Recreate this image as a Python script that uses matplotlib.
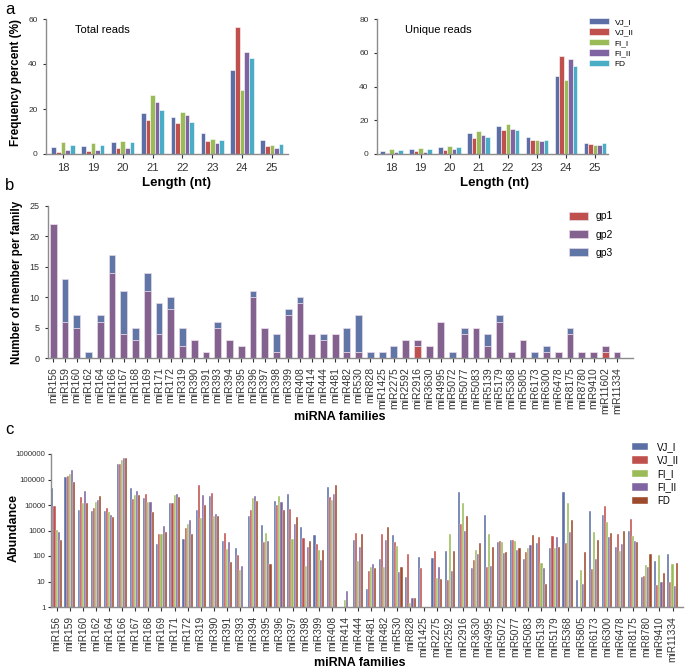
import numpy as np
import matplotlib
matplotlib.use("Agg")
import matplotlib.pyplot as plt
from matplotlib.ticker import FixedLocator, FuncFormatter

plt.rcParams['font.family'] = ['Liberation Sans', 'DejaVu Sans']

# ---------------- data: panel a ----------------
lengths = ['18', '19', '20', '21', '22', '23', '24', '25']
samples = ['VJ_I', 'VJ_II', 'FI_I', 'FI_II', 'FD']

total_VJ_I = [3.3, 3.7, 5.5, 18.4, 16.3, 9.2, 37.3, 6.4]
total_VJ_II = [1.0, 1.5, 2.5, 15.2, 13.8, 5.8, 56.6, 3.6]
total_FI_I = [5.3, 4.9, 5.8, 26.3, 18.6, 6.7, 28.5, 3.9]
total_FI_II = [2.0, 1.6, 2.8, 23.0, 17.2, 4.9, 45.5, 2.5]
total_FD = [3.9, 4.0, 5.3, 19.5, 14.1, 6.2, 42.5, 4.6]

uniq_VJ_I = [1.8, 3.0, 4.4, 12.3, 16.6, 9.9, 46.3, 6.5]
uniq_VJ_II = [0.6, 1.6, 2.6, 9.3, 14.5, 8.3, 58.2, 5.7]
uniq_FI_I = [3.0, 3.8, 5.0, 13.7, 17.8, 8.5, 44.0, 5.5]
uniq_FI_II = [1.0, 1.4, 3.0, 11.3, 15.0, 7.9, 56.2, 5.1]
uniq_FD = [2.4, 3.0, 4.2, 9.9, 14.5, 8.3, 52.3, 6.5]

# ---------------- data: panel b ----------------
fam_b = ['miR156', 'miR159', 'miR160', 'miR162', 'miR164', 'miR166', 'miR167', 'miR168',
         'miR169', 'miR171', 'miR172', 'miR319', 'miR390', 'miR391', 'miR393', 'miR394',
         'miR395', 'miR396', 'miR397', 'miR398', 'miR399', 'miR408', 'miR414', 'miR444',
         'miR481', 'miR482', 'miR530', 'miR828', 'miR1425', 'miR2275', 'miR2592', 'miR2916',
         'miR3630', 'miR4995', 'miR5072', 'miR5077', 'miR5083', 'miR5139', 'miR5179',
         'miR5368', 'miR5805', 'miR6173', 'miR6300', 'miR6478', 'miR8175', 'miR8780',
         'miR9410', 'miR11602', 'miR11334']
gp1 = [0, 0, 0, 0, 0, 0, 0, 0, 0, 0, 0, 0, 0, 0, 0, 0, 0, 0, 0, 0, 0, 0, 0, 0,
       0, 0, 0, 0, 0, 0, 0, 2, 0, 0, 0, 0, 0, 0, 0, 0, 0, 0, 0, 0, 0, 0, 0, 1, 0]
gp2 = [22, 6, 5, 0, 6, 14, 4, 3, 11, 4, 8, 2, 3, 1, 5, 3, 2, 10, 5, 1, 7, 9, 4, 3,
       4, 1, 1, 0, 0, 0, 3, 1, 2, 6, 0, 4, 5, 2, 6, 1, 3, 0, 1, 1, 4, 1, 1, 1, 1]
gp3 = [0, 7, 2, 1, 1, 3, 7, 2, 3, 5, 2, 3, 0, 0, 1, 0, 0, 1, 0, 3, 1, 1, 0, 1,
       0, 4, 6, 1, 1, 2, 0, 0, 0, 0, 1, 1, 0, 2, 1, 0, 0, 1, 1, 0, 1, 0, 0, 0, 0]

# ---------------- data: panel c ----------------
nan = np.nan
fam_c = ['miR156', 'miR159', 'miR160', 'miR162', 'miR164', 'miR166', 'miR167', 'miR168',
         'miR169', 'miR171', 'miR172', 'miR319', 'miR390', 'miR391', 'miR393', 'miR394',
         'miR395', 'miR396', 'miR397', 'miR398', 'miR399', 'miR408', 'miR414', 'miR444',
         'miR481', 'miR482', 'miR530', 'miR828', 'miR1425', 'miR2275', 'miR2592', 'miR2916',
         'miR3630', 'miR4995', 'miR5072', 'miR5077', 'miR5083', 'miR5139', 'miR5179',
         'miR5368', 'miR5805', 'miR6173', 'miR6300', 'miR6478', 'miR8175', 'miR8780',
         'miR9410', 'miR11334']
ab_VJ_I = [47000, 126000, 6300, 5800, 6000, 390000, 47000, 19000, 300, 11500, 450, 6100,
           23000, 400, 215, 3600, 1650, 14800, 26000, 1330, 690, 49000, nan, 435,
           5, 74, 670, 15, 91, 81, 162, 33000, 34, 4000, 355, 410, 79, 323, 200,
           32000, 11, 5800, 4000, 220, 960, 14.6, 66, 117]
ab_VJ_II = [9400, 141000, 21000, 7900, 7900, 420000, 17000, 27000, 720, 11500, 1300, 61000,
            29000, 800, 105, 6600, 365, 10000, 7200, 525, 305, 20500, nan, 830,
            27, 760, 355, 117, 35, 162, 11, 1850, 72, 38, 390, 435, 148, 560, 630,
            323, nan, 32, 8900, 730, 2800, 17, 7.1, 9.8]
ab_FI_I = [1080, 170000, 12000, 13000, 5500, 600000, 24000, 13500, 700, 25000, 1850, 3000,
           3600, 190, 29, 19500, 830, 22500, 465, 42, 173, 16200, 1.9, 66,
           36, 38, 240, 1.4, nan, 14, 760, 12000, 173, 760, 345, 400, 213, 55, 205,
           12000, 29, 870, 2100, 158, 630, 46, 107, 50]
ab_FI_II = [850, 229000, 34000, 16000, 4000, 690000, 36000, 13500, 1450, 28000, 2650, 25000,
            4600, 340, 42, 22500, 400, 13500, 1800, 220, 70, 27700, 4.4, 233,
            49, 435, 24, 2.3, nan, 38, 25, 980, 117, 42, 127, 177, 263, 34, 560,
            870, 7.8, 76, 540, 288, 390, 36, 9.6, 6.9]
ab_FD = [425, 80000, 12000, 23000, 3500, 680000, 25000, 5100, 850, 20000, 710, 10000,
         3800, 56, nan, 14000, 49, 6600, 3400, 375, 173, 61000, nan, 760,
         35, 1330, 36, 2.3, nan, 12, 152, 3800, 315, 225, 148, 213, 670, 8.2, 225,
         2650, 144, 435, 800, 960, 355, 120, 22, 53]

C_BLUE = '#5b6fa6'
C_RED = '#c0504d'
C_GREEN = '#9bbb59'
C_PURPLE = '#8064a2'
C_CYAN = '#4bacc6'
C_BROWN = '#9e4a2c'
C_GP2 = '#83628f'
C_GP3 = '#5f76a6'
SPINE = '#8c8c8c'

W, H = 685, 670
fig = plt.figure(figsize=(W / 100, H / 100), dpi=100)


def rect(l, t, r, b):
    return [l / W, 1 - b / H, (r - l) / W, (b - t) / H]


def fx(x):
    return x / W


def fy(y):
    return 1 - y / H


def style_ax(ax):
    for s in ['top', 'right']:
        ax.spines[s].set_visible(False)
    for s in ['left', 'bottom']:
        ax.spines[s].set_color(SPINE)
        ax.spines[s].set_linewidth(1.0)
    ax.tick_params(colors='#333333', length=2.5, width=0.8)
    ax.tick_params(axis='x', length=3)


# ============================================================
#  panel a
# ============================================================
def length_panel(ax, series, ymax, title, xlim):
    x = np.arange(len(lengths))
    cols = [C_BLUE, C_RED, C_GREEN, C_PURPLE, C_CYAN]
    w = 0.155
    for i, (vals, c, lab) in enumerate(zip(series, cols, samples)):
        ax.bar(x + (i - 2) * w, vals, width=w, color=c, edgecolor='white',
               linewidth=0.4, label=lab)
    ax.set_xlim(*xlim)
    ax.set_ylim(0, ymax)
    ax.set_yticks(np.arange(0, ymax + 1, 20))
    ax.set_xticks(x)
    ax.set_xticklabels(lengths, fontsize=8)
    ax.tick_params(axis='y', labelsize=6)
    ax.text(0.12, 0.92, title, transform=ax.transAxes, fontsize=8, va='center')
    style_ax(ax)


ax1 = fig.add_axes(rect(46, 19, 288, 154))
length_panel(ax1, [total_VJ_I, total_VJ_II, total_FI_I, total_FI_II, total_FD],
             60, 'Total reads', (-0.57, 7.54))
fig.text(fx(176), fy(183), 'Length (nt)', fontsize=9.5, fontweight='bold',
         ha='center', va='center')
fig.text(fx(16), fy(83), 'Frequency percent (%)', fontsize=8.5, fontweight='bold',
         ha='center', va='center', rotation=90)

ax2 = fig.add_axes(rect(377, 19, 608, 154))
length_panel(ax2, [uniq_VJ_I, uniq_VJ_II, uniq_FI_I, uniq_FI_II, uniq_FD],
             80, 'Unique reads', (-0.5, 7.45))
fig.text(fx(494), fy(183), 'Length (nt)', fontsize=9.5, fontweight='bold',
         ha='center', va='center')
ax2.legend(loc='upper left', bbox_to_anchor=(0.885, 1.065), frameon=False, fontsize=6,
           handlelength=2.4, handleheight=0.8, labelspacing=0.3, handletextpad=0.7)

# ============================================================
#  panel b
# ============================================================
ax3 = fig.add_axes(rect(48, 206, 633, 358))
xb = np.arange(len(fam_b))
gp1a, gp2a, gp3a = np.array(gp1), np.array(gp2), np.array(gp3)
bw = 0.58
ax3.bar(xb, gp1a, width=bw, color=C_RED, edgecolor='#e8d8e8', linewidth=0.5, label='gp1')
ax3.bar(xb, gp2a, width=bw, bottom=gp1a, color=C_GP2, edgecolor='#e8d8e8', linewidth=0.5,
        label='gp2')
ax3.bar(xb, gp3a, width=bw, bottom=gp1a + gp2a, color=C_GP3, edgecolor='#e8d8e8',
        linewidth=0.5, label='gp3')
ax3.set_xlim(-0.45, 49.36)
ax3.set_ylim(0, 25)
ax3.set_yticks([0, 5, 10, 15, 20, 25])
ax3.tick_params(axis='y', labelsize=6.5)
ax3.set_xticks(xb)
ax3.set_xticklabels(fam_b, rotation=90, fontsize=7.5)
fig.text(fx(17), fy(282), 'Number of member per family', fontsize=8.3, fontweight='bold',
         ha='center', va='center', rotation=90)
fig.text(fx(340), fy(417), 'miRNA families', fontsize=9, fontweight='bold',
         ha='center', va='center')
ax3.legend(loc='upper left', bbox_to_anchor=(0.875, 1.026), frameon=False, fontsize=7.5,
           handlelength=1.8, handleheight=0.8, labelspacing=0.8, handletextpad=0.7)
style_ax(ax3)

# ============================================================
#  panel c
# ============================================================
ax4 = fig.add_axes(rect(51, 454, 683, 607))
xc = np.arange(len(fam_c))
cw = 0.16
for i, (vals, c, lab) in enumerate(zip([ab_VJ_I, ab_VJ_II, ab_FI_I, ab_FI_II, ab_FD],
                                       [C_BLUE, C_RED, C_GREEN, C_PURPLE, C_BROWN],
                                       samples)):
    ax4.bar(xc + (i - 2) * cw, vals, width=cw, color=c, edgecolor='white',
            linewidth=0.3, label=lab)
ax4.set_yscale('log')
ax4.set_ylim(1, 1e6)
ax4.set_xlim(-0.43, 47.8)
ax4.yaxis.set_major_locator(FixedLocator([1, 10, 100, 1000, 1e4, 1e5, 1e6]))
ax4.yaxis.set_minor_locator(FixedLocator([]))
ax4.yaxis.set_major_formatter(FuncFormatter(lambda v, p: '%d' % v))
ax4.tick_params(axis='y', labelsize=5.6, pad=1.5)
ax4.set_xticks(xc)
ax4.set_xticklabels(fam_c, rotation=90, fontsize=7.3)
fig.text(fx(14), fy(528), 'Abundance', fontsize=9, fontweight='bold',
         ha='center', va='center', rotation=90)
fig.text(fx(360), fy(663), 'miRNA families', fontsize=9, fontweight='bold',
         ha='center', va='center')
ax4.legend(loc='upper left', bbox_to_anchor=(0.905, 1.135), frameon=False, fontsize=7,
           handlelength=1.7, handleheight=0.8, labelspacing=0.35, handletextpad=0.9)
style_ax(ax4)

# panel letters
fig.text(fx(5), fy(9), 'a', fontsize=12, va='center')
fig.text(fx(5), fy(186), 'b', fontsize=12, va='center')
fig.text(fx(5), fy(430), 'c', fontsize=12, va='center')

fig.savefig('out.png', dpi=100)
